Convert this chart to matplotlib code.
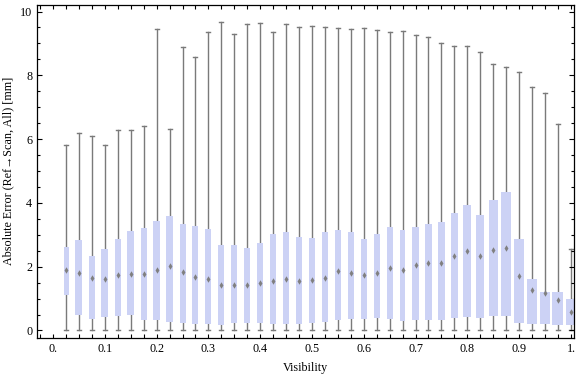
import matplotlib

matplotlib.use("Agg")
import matplotlib.pyplot as plt
from matplotlib.patches import Rectangle
from matplotlib.ticker import MultipleLocator

plt.rcParams["font.family"] = ["Liberation Serif", "DejaVu Serif"]

# ---------- data ----------
visibility = [0.025, 0.05, 0.075, 0.1, 0.125, 0.15, 0.175, 0.2, 0.225, 0.25,
              0.275, 0.3, 0.325, 0.35, 0.375, 0.4, 0.425, 0.45, 0.475, 0.5,
              0.525, 0.55, 0.575, 0.6, 0.625, 0.65, 0.675, 0.7, 0.725, 0.75,
              0.775, 0.8, 0.825, 0.85, 0.875, 0.9, 0.925, 0.95, 0.975, 1.0]
whisker_lo = [0.03] + [0.0] * 39
q1 = [1.11, 0.48, 0.36, 0.42, 0.45, 0.48, 0.32, 0.32, 0.28, 0.23,
      0.20, 0.20, 0.17, 0.23, 0.23, 0.23, 0.20, 0.20, 0.20, 0.23,
      0.26, 0.32, 0.36, 0.36, 0.38, 0.35, 0.29, 0.32, 0.32, 0.32,
      0.39, 0.42, 0.39, 0.45, 0.45, 0.23, 0.20, 0.20, 0.17, 0.17]
median = [1.90, 1.80, 1.64, 1.62, 1.75, 1.78, 1.78, 1.89, 2.01, 1.83,
          1.67, 1.61, 1.43, 1.42, 1.42, 1.50, 1.54, 1.60, 1.54, 1.57,
          1.66, 1.88, 1.81, 1.74, 1.81, 1.97, 1.90, 2.04, 2.13, 2.12,
          2.34, 2.49, 2.32, 2.52, 2.60, 1.71, 1.26, 1.18, 0.96, 0.59]
q3 = [2.61, 2.83, 2.35, 2.54, 2.88, 3.11, 3.20, 3.42, 3.58, 3.33,
      3.27, 3.17, 2.67, 2.67, 2.58, 2.73, 3.01, 3.08, 2.92, 2.89,
      3.08, 3.14, 3.08, 2.86, 3.01, 3.23, 3.14, 3.23, 3.33, 3.39,
      3.67, 3.92, 3.61, 4.08, 4.33, 2.86, 1.60, 1.22, 1.22, 1.00]
whisker_hi = [5.83, 6.18, 6.11, 5.83, 6.27, 6.27, 6.40, 9.46, 6.31, 8.88,
              8.56, 9.35, 9.66, 9.28, 9.60, 9.63, 9.35, 9.60, 9.53, 9.56,
              9.50, 9.47, 9.44, 9.47, 9.41, 9.35, 9.38, 9.26, 9.19, 9.00,
              8.91, 8.91, 8.72, 8.34, 8.25, 8.09, 7.62, 7.46, 6.46, 2.55]
xtick_vals = [0.0, 0.1, 0.2, 0.3, 0.4, 0.5, 0.6, 0.7, 0.8, 0.9, 1.0]
xtick_labels = ["0.", "0.1", "0.2", "0.3", "0.4", "0.5", "0.6", "0.7", "0.8", "0.9", "1."]

# box widths in pixels (they vary in the original)
box_px = [5, 7, 6.3, 7, 6.3, 6.7, 6, 6.3, 6.7, 6, 6, 6, 6, 6, 6, 6, 6, 6, 6, 6,
          6, 6, 6, 6, 6, 6, 5.5, 6.3, 6.3, 6.3, 7, 7.7, 7.7, 9, 10, 10, 10, 10, 11, 10]

BOX = "#ccd2f5"
WHISK = "#7a7a7a"
PX = 1 / 518.0  # data units per pixel along x

fig = plt.figure(figsize=(5.76, 3.77), dpi=100)
ax = fig.add_axes([36.5 / 576, 1 - 337.5 / 377, (574 - 36.5) / 576, (337.5 - 4.5) / 377])

for i, x in enumerate(visibility):
    w = box_px[i] * PX
    cap = 2.0 * PX
    ax.plot([x, x], [whisker_lo[i], whisker_hi[i]], color=WHISK, lw=1.0, zorder=1)
    ax.plot([x - cap, x + cap], [whisker_hi[i]] * 2, color=WHISK, lw=1.0, zorder=1)
    ax.plot([x - cap, x + cap], [whisker_lo[i]] * 2, color=WHISK, lw=1.0, zorder=1)
    ax.add_patch(Rectangle((x - w / 2, q1[i]), w, q3[i] - q1[i],
                           facecolor=BOX, edgecolor="none", zorder=2))
    ax.plot(x, median[i], marker="d", ms=3.3, color="#808080", mec="none", zorder=3)

ax.set_xlim(-0.032, 1.006)
ax.set_ylim(-0.22, 10.22)

ax.set_xticks(xtick_vals)
ax.set_xticklabels(xtick_labels)
ax.xaxis.set_minor_locator(MultipleLocator(0.025))
ax.set_yticks([0, 2, 4, 6, 8, 10])
ax.yaxis.set_minor_locator(MultipleLocator(0.5))

ax.tick_params(which="both", direction="in", top=True, right=True, labelsize=8.7,
               colors="black", width=0.8)
ax.tick_params(axis="x", which="both", length=3.2, pad=4)
ax.tick_params(axis="y", which="major", length=3.8, pad=3)
ax.tick_params(axis="y", which="minor", length=2.0)
for s in ax.spines.values():
    s.set_linewidth(0.9)

ax.set_xlabel("Visibility", fontsize=8.7, labelpad=5)
ax.set_ylabel("Absolute Error (Ref\u2192Scan, All) [mm]", fontsize=8.7, labelpad=4)

fig.savefig("out.png", dpi=100, facecolor="white")
